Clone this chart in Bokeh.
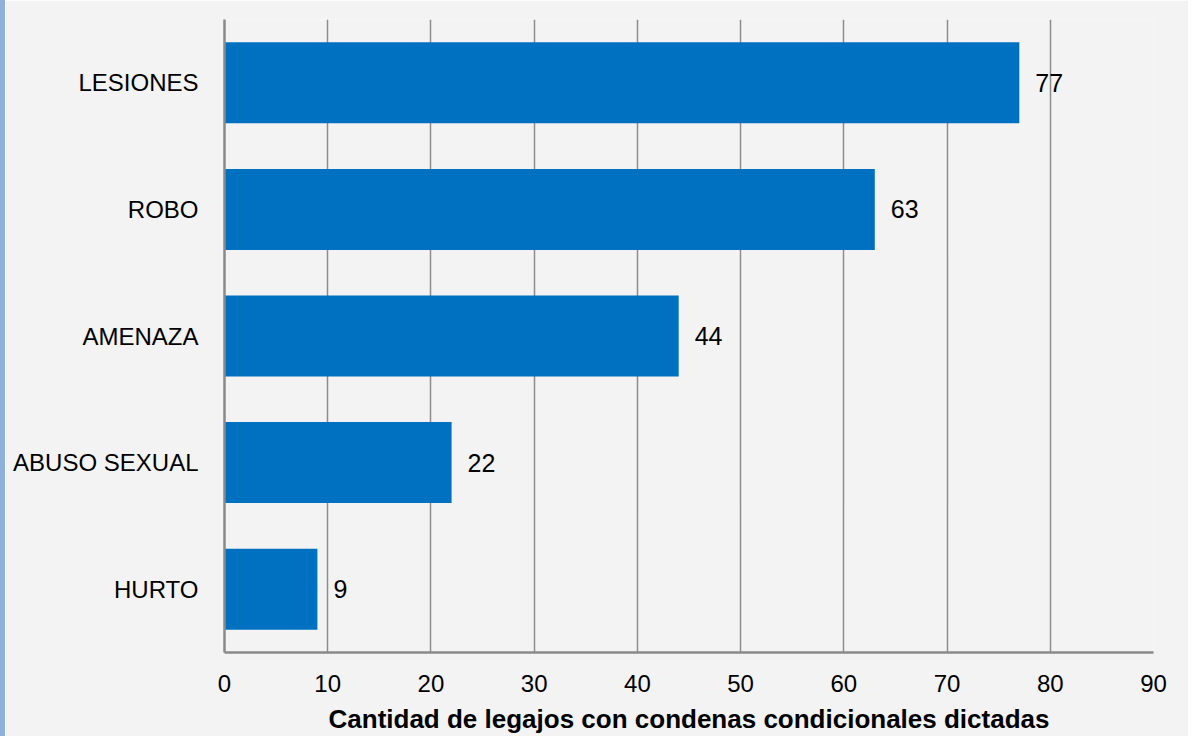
from bokeh.plotting import figure
from bokeh.models import ColumnDataSource, FactorRange, Range1d, FixedTicker, Div
from bokeh.layouts import row
from bokeh.core.properties import value
from bokeh.embed import file_html
from bokeh.resources import INLINE

categories = ["HURTO", "ABUSO SEXUAL", "AMENAZA", "ROBO", "LESIONES"]
counts = [9, 22, 44, 63, 77]
x_ticks = [0, 10, 20, 30, 40, 50, 60, 70, 80, 90]
x_title = "Cantidad de legajos con condenas condicionales dictadas"

FONT = "Liberation Sans"
BG = "#f3f3f3"

src = ColumnDataSource(dict(cat=categories, val=counts, lab=[str(v) for v in counts]))

p = figure(width=1183, height=736, output_backend="svg", toolbar_location=None,
           y_range=FactorRange(factors=categories), x_range=Range1d(0, 90),
           min_border_left=219, min_border_right=35, min_border_top=19, min_border_bottom=83)
p.background_fill_color = BG
p.border_fill_color = BG
p.outline_line_color = None

p.hbar(y="cat", right="val", left=0, height=0.64, source=src,
       fill_color="#0070C0", line_color=None)

p.text(x="val", y="cat", text="lab", source=src, x_offset=16,
       text_align="left", text_baseline="middle",
       text_font=value(FONT), text_font_size="25px", text_color="#000000")

# x axis
xa = p.xaxis[0]
xa.ticker = FixedTicker(ticks=x_ticks)
xa.axis_line_color = "#8a8a8a"
xa.axis_line_width = 2.5
xa.major_tick_line_color = None
xa.minor_tick_line_color = None
xa.major_label_text_font = FONT
xa.major_label_text_font_size = "24px"
xa.major_label_text_color = "#000000"
xa.major_label_standoff = 16
xa.axis_label = x_title
xa.axis_label_text_font = FONT
xa.axis_label_text_font_size = "26px"
xa.axis_label_text_font_style = "bold"
xa.axis_label_text_color = "#000000"
xa.axis_label_standoff = 9

# y axis
ya = p.yaxis[0]
ya.axis_line_color = "#8a8a8a"
ya.axis_line_width = 2.5
ya.major_tick_line_color = None
ya.minor_tick_line_color = None
ya.major_label_text_font = FONT
ya.major_label_text_font_size = "24px"
ya.major_label_text_color = "#000000"
ya.major_label_standoff = 20

p.xgrid.grid_line_color = "#8c8c8c"
p.xgrid.grid_line_width = 1.5
p.ygrid.grid_line_color = None

strip = Div(text="", width=5, height=736,
            styles={"background-color": "#8fb0dc", "margin": "0", "padding": "0"})

layout = row(strip, p, spacing=0)

open("out.html", "w").write(file_html(layout, INLINE))
